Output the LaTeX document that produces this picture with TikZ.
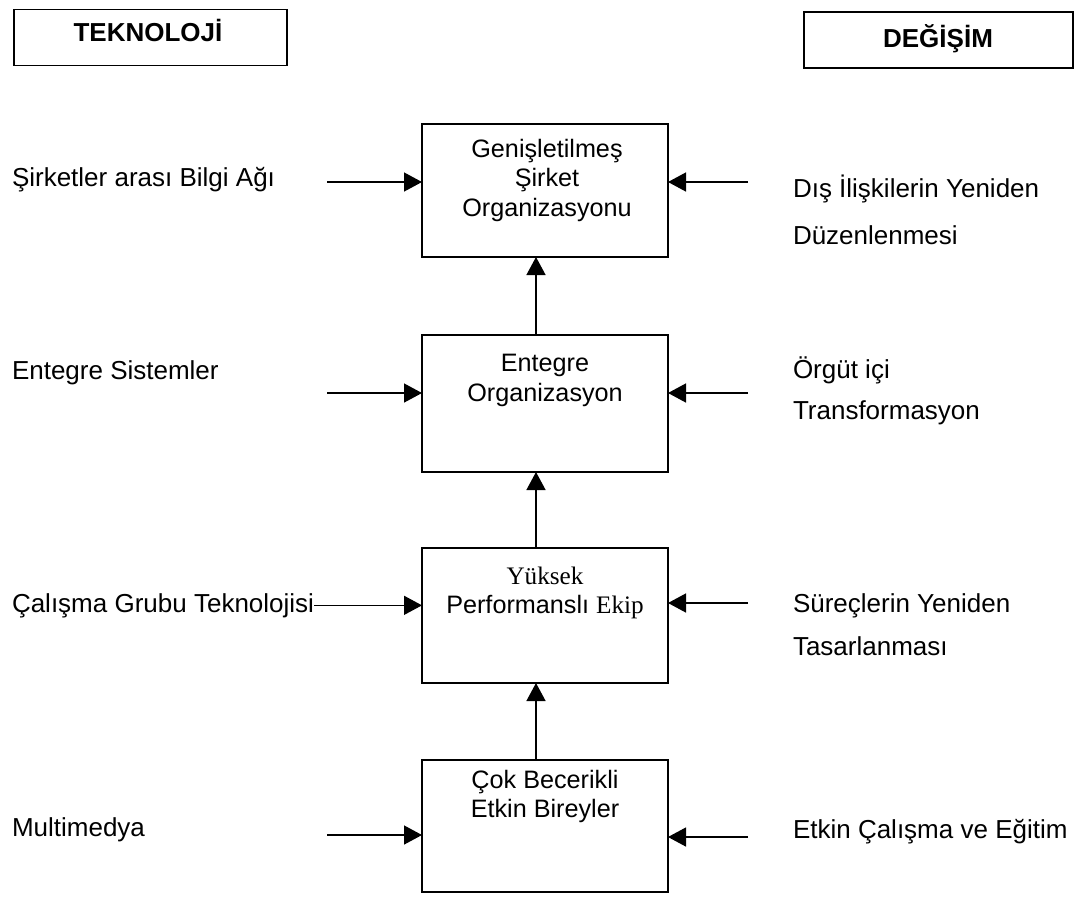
\documentclass[tikz,border=0pt]{standalone}
\usepackage{fontspec}
\setmainfont{Liberation Sans}
\newfontfamily\timesf{Liberation Serif}
\usetikzlibrary{arrows.meta}
\begin{document}
\begin{tikzpicture}[x=0.5pt,y=-0.5pt,
  every node/.style={inner sep=0pt, outer sep=0pt},
  hdr/.style={draw, line width=0.75pt, minimum height=28pt},
  hdrtext/.style={font=\fontsize{13}{15}\selectfont\bfseries, anchor=base},
  stage/.style={draw, line width=0.9pt, minimum width=123pt},
  stagetext/.style={font=\fontsize{12.6}{14.7}\selectfont, align=center, anchor=north},
  side/.style={font=\fontsize{13}{15}\selectfont, anchor=base west},
  arr/.style={line width=0.7pt, -{Triangle[length=9pt,width=9.5pt]}}]
  \fill[white] (0,0) rectangle (1081,896);
  \useasboundingbox (0,0) rectangle (1081,896);

  % column headers
  \node[hdr, minimum width=136.5pt] (hl) at (150.5,37.5) {};
  \node[hdrtext] (hlt) at (148,41) {TEKNOLOJİ};
  \node[hdr, minimum width=134.5pt] (hr) at (938.5,40) {};
  \node[hdrtext] (hrt) at (938,47) {DEĞİŞİM};

  % stages of the organisation
  \node[stage, minimum height=66.5pt] (b1) at (545,190.5) {};
  \node[stage, minimum height=68.5pt] (b2) at (545,403.5) {};
  \node[stage, minimum height=67.5pt] (b3) at (545,615.5) {};
  \node[stage, minimum height=66pt]   (b4) at (545,826) {};

  \node[stagetext] (b1t) at ([xshift=1pt,yshift=-7.5pt]b1.north) {Genişletilmeş\\Şirket\\Organizasyonu};
  \node[stagetext] (b2t) at ([yshift=-9.75pt]b2.north) {Entegre\\Organizasyon};
  \node[stagetext] (b3t) at ([yshift=-9.25pt]b3.north) {{\timesf Yüksek}\\Performanslı {\timesf Ekip}};
  \node[stagetext] (b4t) at ([yshift=-5pt]b4.north) {Çok Becerikli\\Etkin Bireyler};

  % technology side
  \node[side] (t1) at (12,186) {Şirketler arası Bilgi Ağı};
  \node[side] (t2) at (12,379) {Entegre Sistemler};
  \node[side] (t3) at (12,612) {Çalışma Grubu Teknolojisi};
  \node[side] (t4) at (12,836) {Multimedya};

  % change side
  \node[side] (c1a) at (793,197) {Dış İlişkilerin Yeniden};
  \node[side] (c1b) at (793,244) {Düzenlenmesi};
  \node[side] (c2a) at (793,378) {Örgüt içi};
  \node[side] (c2b) at (793,419) {Transformasyon};
  \node[side] (c3a) at (793,612) {Süreçlerin Yeniden};
  \node[side] (c3b) at (793,655) {Tasarlanması};
  \node[side] (c4a) at (793,838) {Etkin Çalışma ve Eğitim};

  % arrow start points
  \coordinate (l1) at (327,182);
  \coordinate (l2) at (327,393);
  \coordinate (l4) at (327,835);
  \coordinate (r1) at (748,182);
  \coordinate (r2) at (748,393);
  \coordinate (r3) at (748,603);
  \coordinate (r4) at (748,837);

  \draw[arr] (l1) -- (l1 -| b1.west);
  \draw[arr] (l2) -- (l2 -| b2.west);
  \draw[arr] (t3.east) -- (t3.east -| b3.west);
  \draw[arr] (l4) -- (l4 -| b4.west);

  \draw[arr] (r1) -- (r1 -| b1.east);
  \draw[arr] (r2) -- (r2 -| b2.east);
  \draw[arr] (r3) -- (r3 -| b3.east);
  \draw[arr] (r4) -- (r4 -| b4.east);

  % upward progression
  \draw[arr] ([xshift=-4.5pt]b4.north) -- ([xshift=-4.5pt]b3.south);
  \draw[arr] ([xshift=-4.5pt]b3.north) -- ([xshift=-4.5pt]b2.south);
  \draw[arr] ([xshift=-4.5pt]b2.north) -- ([xshift=-4.5pt]b1.south);
\end{tikzpicture}
\end{document}
